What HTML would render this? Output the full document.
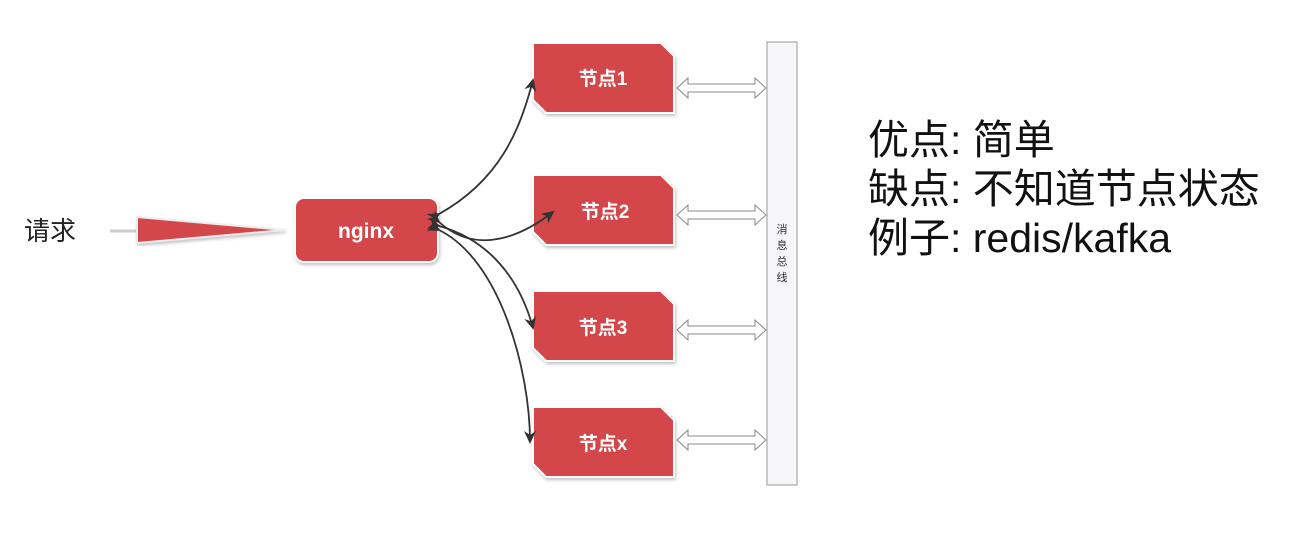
<!DOCTYPE html>
<html><head><meta charset="utf-8"><style>
body{margin:0;width:1296px;height:536px;background:#fff;overflow:hidden;position:relative;font-family:"Liberation Sans","Noto Sans CJK SC",sans-serif}
.t{position:absolute;left:868px;font-size:41px;color:#111;line-height:48px;white-space:nowrap}
</style></head><body>
<svg width="1296" height="536" style="position:absolute;left:0;top:0">
<defs>
<marker id="a" markerWidth="14" markerHeight="14" refX="11" refY="7" orient="auto" markerUnits="userSpaceOnUse"><path d="M0,1 L13,7 L0,13 L4,7 Z" fill="#333"/></marker>
<filter id="s"><feDropShadow dx="1" dy="2" stdDeviation="1.5" flood-color="#999" flood-opacity="0.6"/></filter>
</defs>
<text x="24" y="240" font-size="26" fill="#222" font-family="Liberation Sans,Noto Sans CJK SC,sans-serif">请求</text>
<line x1="110" y1="231" x2="137" y2="231" stroke="#ccc" stroke-width="3"/>
<polygon points="137,217 285,230 137,243" fill="#d3474c" stroke="#eee" stroke-width="2" filter="url(#s)"/>
<rect x="295" y="198" width="143" height="64" rx="9" fill="#d3474c" stroke="#fff" stroke-width="2" filter="url(#s)"/>
<text x="366" y="238" font-size="21" font-weight="bold" fill="#fff" text-anchor="middle">nginx</text>
<g fill="#d3474c" stroke="#fff" stroke-width="2" filter="url(#s)">
<polygon points="533,43 661,43 674,56 674,113 546,113 533,100"/>
<polygon points="533,175 661,175 674,188 674,245 546,245 533,232"/>
<polygon points="533,291 661,291 674,304 674,361 546,361 533,348"/>
<polygon points="533,407 661,407 674,420 674,477 546,477 533,464"/>
</g>
<g font-size="19" font-weight="bold" fill="#fff" text-anchor="middle" font-family="Liberation Sans,Noto Sans CJK SC,sans-serif">
<text x="603" y="85">节点1</text><text x="605" y="218">节点2</text><text x="603" y="334">节点3</text><text x="603" y="450">节点x</text>
</g>
<rect x="767" y="42" width="30" height="443" fill="#f6f6f8" stroke="#999"/>
<g font-size="11" fill="#333" font-family="Noto Sans CJK SC,sans-serif" text-anchor="middle">
<text x="782" y="233">消</text><text x="782" y="249">息</text><text x="782" y="265">总</text><text x="782" y="281">线</text>
</g>
<g fill="#fff" stroke="#888" stroke-width="1">
<path d="M677,88 L688,78 L688,84 L755,84 L755,78 L766,88 L755,98 L755,92 L688,92 L688,98 Z"/>
<path d="M677,215 L688,205 L688,211 L755,211 L755,205 L766,215 L755,225 L755,219 L688,219 L688,225 Z"/>
<path d="M677,330 L688,320 L688,326 L755,326 L755,320 L766,330 L755,340 L755,334 L688,334 L688,340 Z"/>
<path d="M677,440 L688,430 L688,436 L755,436 L755,430 L766,440 L755,450 L755,444 L688,444 L688,450 Z"/>
</g>
<g fill="none" stroke="#333" stroke-width="1.8">
<path d="M439,214 C500,180 520,130 533,80" marker-start="url(#a)" marker-end="url(#a)"/>
<path d="M439,222 C470,250 510,245 553,212" marker-start="url(#a)" marker-end="url(#a)"/>
<path d="M439,226 C490,240 520,280 533,328" marker-start="url(#a)" marker-end="url(#a)"/>
<path d="M439,230 C500,260 530,370 530,442" marker-start="url(#a)" marker-end="url(#a)"/>
</g>
</svg>
<div class="t" style="top:116px">优点: 简单</div>
<div class="t" style="top:165px">缺点: 不知道节点状态</div>
<div class="t" style="top:214px">例子: redis/kafka</div>
</body></html>
